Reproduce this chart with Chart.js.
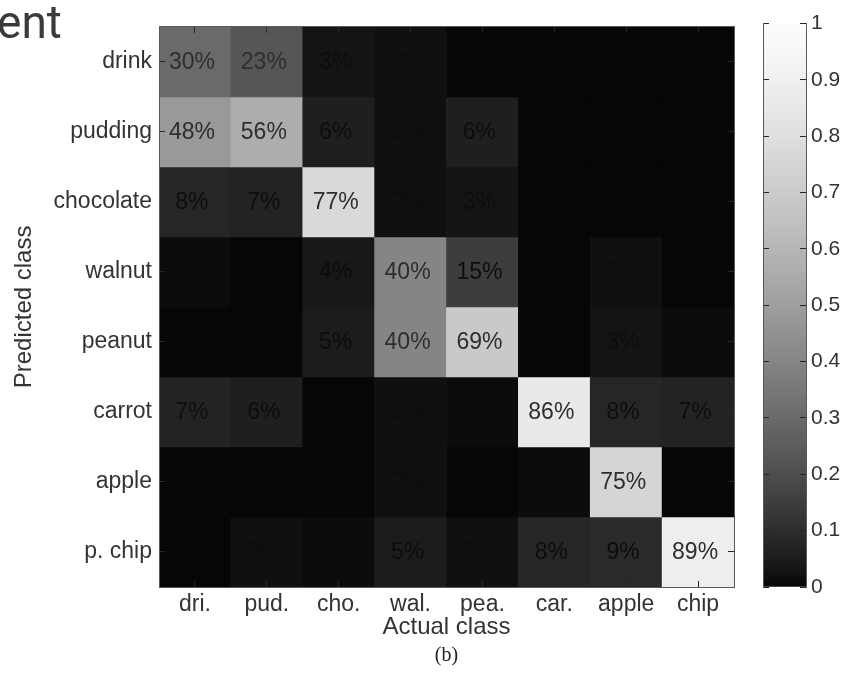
<!DOCTYPE html>
<html>
<head>
<meta charset="utf-8">
<title>Confusion matrix</title>
<script src="https://cdn.jsdelivr.net/npm/chart.js@4.4.1/dist/chart.umd.min.js"></script>
<style>
  html, body { margin: 0; padding: 0; background: #fff; }
  #wrap { position: relative; width: 850px; height: 686px; overflow: hidden; }
  #main { position: absolute; left: 0; top: 0; }
  #bar { position: absolute; left: 750px; top: 0; }
</style>
</head>
<body>
<div id="wrap">
  <canvas id="main" width="750" height="686"></canvas>
  <canvas id="bar" width="100" height="686"></canvas>
</div>
<script>
// Actual classes (columns) and predicted classes (rows)
const actualLabels = ['dri.', 'pud.', 'cho.', 'wal.', 'pea.', 'car.', 'apple', 'chip'];
const predictedLabels = ['drink', 'pudding', 'chocolate', 'walnut', 'peanut', 'carrot', 'apple', 'p. chip'];

// Percentages, one array per predicted class, in the order of actualLabels
const drinkRow     = [30, 23,  3,  2,  0,  0,  0,  0];
const puddingRow   = [48, 56,  6,  2,  6,  0,  0,  0];
const chocolateRow = [ 8,  7, 77,  2,  3,  0,  0,  0];
const walnutRow    = [ 1,  0,  4, 40, 15,  0,  2,  0];
const peanutRow    = [ 0,  0,  5, 40, 69,  0,  3,  1];
const carrotRow    = [ 7,  6,  0,  2,  1, 86,  8,  7];
const appleRow     = [ 0,  0,  0,  2,  0,  1, 75,  0];
const chipRow      = [ 0,  2,  1,  5,  2,  8,  9, 89];
const matrixRows = [drinkRow, puddingRow, chocolateRow, walnutRow, peanutRow, carrotRow, appleRow, chipRow];

// Colour bar tick values
const colorbarTicks = [0, 0.1, 0.2, 0.3, 0.4, 0.5, 0.6, 0.7, 0.8, 0.9, 1];

const FONT = '"Liberation Sans", Arial, Helvetica, sans-serif';
const TEXT = '#333333';
const CELL_TEXT = '#0d0d0d';
const EDGE = '#5a5a5a';
const TICK = '#262626';

// grey colormap
function shade(v) {
  const f = 0.35 * Math.pow(v, 0.7) + 0.65 * (1 - Math.pow(1 - v, 1.4));
  const g = Math.round(6 + 246 * f);
  return 'rgb(' + g + ',' + g + ',' + g + ')';
}

const fixedWidth = w => scale => { scale.width = w; };
const fixedHeight = h => scale => { scale.height = h; };
const rowTicks = scale => { scale.ticks = predictedLabels.map((_, i) => ({ value: i })); };

// one floating-bar dataset per predicted class, spanning its row
const datasets = matrixRows.map((row, r) => ({
  label: predictedLabels[r],
  data: row.map(() => [r - 0.5, r + 0.5]),
  values: row,
  backgroundColor: row.map(p => shade(p / 100)),
  borderWidth: 0,
  categoryPercentage: 1,
  barPercentage: 1
}));

const cellText = {
  id: 'cellText',
  afterDatasetsDraw(chart) {
    const ctx = chart.ctx;
    ctx.save();
    ctx.font = '23px ' + FONT;
    ctx.textAlign = 'center';
    ctx.textBaseline = 'middle';
    chart.data.datasets.forEach((ds, r) => {
      const meta = chart.getDatasetMeta(r);
      meta.data.forEach((bar, c) => {
        const p = ds.values[c];
        if (p > 0) {
          const pos = bar.getProps(['x', 'y', 'base'], true);
          // labels on light cells read slightly softer
          ctx.fillStyle = p >= 20 ? '#2e2e2e' : CELL_TEXT;
          ctx.fillText(p + '%', pos.x - 3, (pos.y + pos.base) / 2 + 1);
        }
      });
    });
    ctx.restore();
  },
  afterDraw(chart) {
    const ctx = chart.ctx;
    const xs = chart.scales.x;
    ctx.save();
    ctx.fillStyle = '#222';
    ctx.textAlign = 'center';
    ctx.textBaseline = 'middle';
    ctx.font = '20px "Liberation Serif", "Times New Roman", serif';
    ctx.fillText('(b)', (xs.left + xs.right) / 2, 656);
    ctx.fillStyle = '#3a3a3a';
    ctx.textAlign = 'left';
    ctx.textBaseline = 'alphabetic';
    ctx.font = '46px Roboto, "Noto Sans", sans-serif';
    ctx.fillText('ent', -3, 38);
    ctx.restore();
  }
};

const inside = {
  drawOnChartArea: false,
  drawTicks: true,
  tickLength: -6,
  tickColor: TICK,
  tickWidth: 1,
  offset: false,
  z: 1
};
const edge = { display: true, color: EDGE, width: 1, z: 1 };

new Chart(document.getElementById('main'), {
  type: 'bar',
  data: { labels: actualLabels, datasets },
  plugins: [cellText],
  options: {
    responsive: false,
    animation: false,
    layout: { padding: { left: 0, top: 14, right: 16, bottom: 44 } },
    plugins: { legend: { display: false }, tooltip: { enabled: false } },
    scales: {
      x: {
        type: 'category', position: 'bottom', stacked: true,
        grid: inside, border: edge,
        ticks: { color: TEXT, font: { family: FONT, size: 23 }, padding: 10, maxRotation: 0, autoSkip: false },
        title: { display: true, text: 'Actual class', color: TEXT, font: { family: FONT, size: 24 }, padding: { top: 0, bottom: 0 } },
        afterFit: fixedHeight(55)
      },
      x2: {
        type: 'category', position: 'top', offset: true,
        grid: inside, border: edge,
        ticks: { display: false },
        afterFit: fixedHeight(0)
      },
      y: {
        type: 'linear', position: 'left', min: -0.5, max: 7.5, reverse: true, stacked: false,
        grid: inside, border: edge,
        afterBuildTicks: rowTicks,
        ticks: { color: TEXT, font: { family: FONT, size: 23 }, padding: 13, callback: v => predictedLabels[v] },
        title: { display: true, text: 'Predicted class', color: TEXT, font: { family: FONT, size: 24 }, padding: { top: 10, bottom: 0 } },
        afterFit: fixedWidth(159)
      },
      y2: {
        type: 'linear', position: 'right', min: -0.5, max: 7.5, reverse: true,
        grid: inside, border: edge,
        afterBuildTicks: rowTicks,
        ticks: { display: false },
        afterFit: fixedWidth(0)
      }
    }
  }
});

// colour bar
new Chart(document.getElementById('bar'), {
  type: 'bar',
  data: {
    labels: [''],
    datasets: [{
      data: [[0, 1]],
      borderWidth: 0,
      categoryPercentage: 1,
      barPercentage: 1,
      backgroundColor(context) {
        const area = context.chart.chartArea;
        if (!area) return '#888';
        const g = context.chart.ctx.createLinearGradient(0, area.bottom, 0, area.top);
        for (let k = 0; k <= 50; k++) g.addColorStop(k / 50, shade(k / 50));
        return g;
      }
    }]
  },
  options: {
    responsive: false,
    animation: false,
    layout: { padding: { left: 13, top: 14, right: 0, bottom: 99 } },
    plugins: { legend: { display: false }, tooltip: { enabled: false } },
    scales: {
      x: { display: false },
      y: {
        type: 'linear', position: 'right', min: 0, max: 1,
        grid: inside, border: edge,
        afterBuildTicks: scale => { scale.ticks = colorbarTicks.map(v => ({ value: v })); },
        ticks: { color: TEXT, font: { family: FONT, size: 21 }, padding: 11, callback: v => String(Math.round(v * 10) / 10) },
        afterFit: fixedWidth(44)
      },
      y2: {
        type: 'linear', position: 'left', min: 0, max: 1,
        grid: inside, border: edge,
        afterBuildTicks: scale => { scale.ticks = colorbarTicks.map(v => ({ value: v })); },
        ticks: { display: false },
        afterFit: fixedWidth(0)
      }
    }
  }
});
</script>
</body>
</html>
